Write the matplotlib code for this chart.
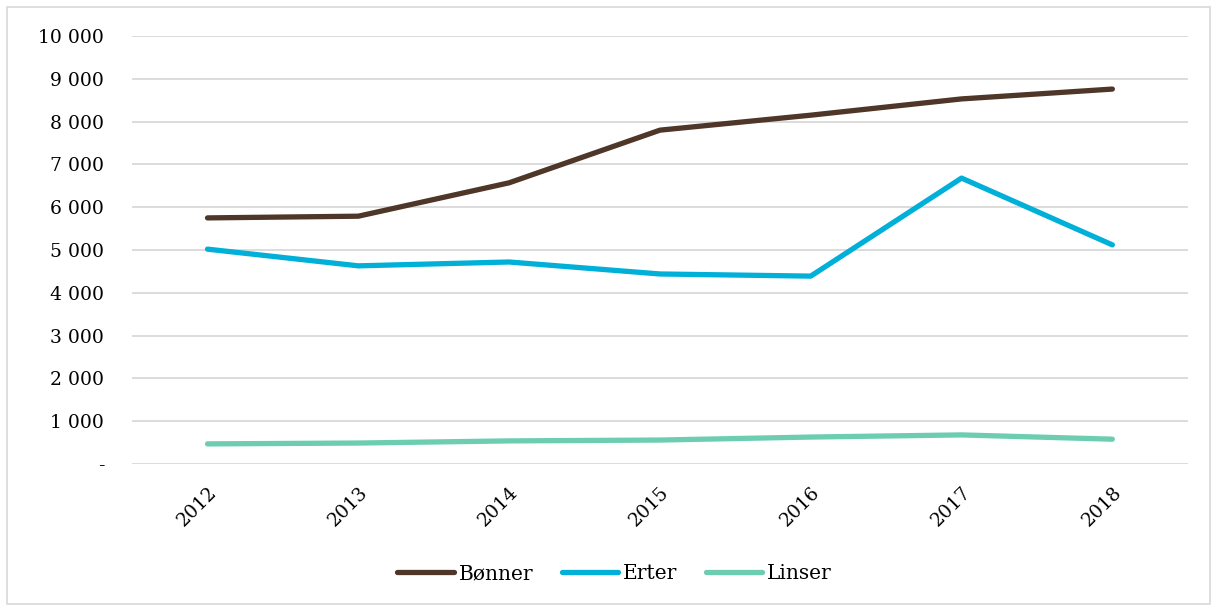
import matplotlib
matplotlib.use("Agg")
import matplotlib.pyplot as plt
from matplotlib.ticker import FuncFormatter, MultipleLocator
from matplotlib.patches import Rectangle

years = ["2012", "2013", "2014", "2015", "2016", "2017", "2018"]
bonner = [5750, 5790, 6570, 7800, 8150, 8530, 8760]
erter = [5020, 4630, 4720, 4440, 4390, 6680, 5120]
linser = [470, 490, 540, 560, 630, 680, 580]

plt.rcParams['font.family'] = ['DejaVu Serif']

fig = plt.figure(figsize=(12.12, 6.06), dpi=100)
ax = fig.add_axes([0.109, 0.2343, 0.871, 0.7063])

x = list(range(len(years)))
ax.plot(x, bonner, color="#4E3629", lw=3.8, solid_capstyle="round", label="Bønner")
ax.plot(x, erter, color="#00B0D8", lw=3.8, solid_capstyle="round", label="Erter")
ax.plot(x, linser, color="#6DCDB0", lw=3.8, solid_capstyle="round", label="Linser")

ax.set_xlim(-0.5, len(years) - 0.5)
ax.set_ylim(0, 10000)
ax.yaxis.set_major_locator(MultipleLocator(1000))

def fmt(v, pos):
    if v == 0:
        return "-"
    return f"{int(v):,}".replace(",", " ")

ax.yaxis.set_major_formatter(FuncFormatter(fmt))
ax.grid(axis="y", color="#D9D9D9", lw=1.3)
ax.set_axisbelow(True)
for s in ax.spines.values():
    s.set_visible(False)
ax.tick_params(axis="both", length=0, labelsize=13.5, colors="black")
ax.tick_params(axis="y", pad=20)
ax.set_xticks(x)
ax.set_xticklabels(years, rotation=45, ha="right", rotation_mode="anchor")
ax.tick_params(axis="x", pad=14)

leg = fig.legend(loc="center", bbox_to_anchor=(0.507, 0.053), ncol=3, frameon=False,
                 fontsize=14.5, handlelength=2.8, columnspacing=1.4, handletextpad=0.25)

fig.patches.append(Rectangle((0.006, 0.004), 0.992, 0.984, transform=fig.transFigure,
                             fill=False, edgecolor="#D9D9D9", lw=1.2))

fig.savefig("out.png", dpi=100, facecolor="white")
